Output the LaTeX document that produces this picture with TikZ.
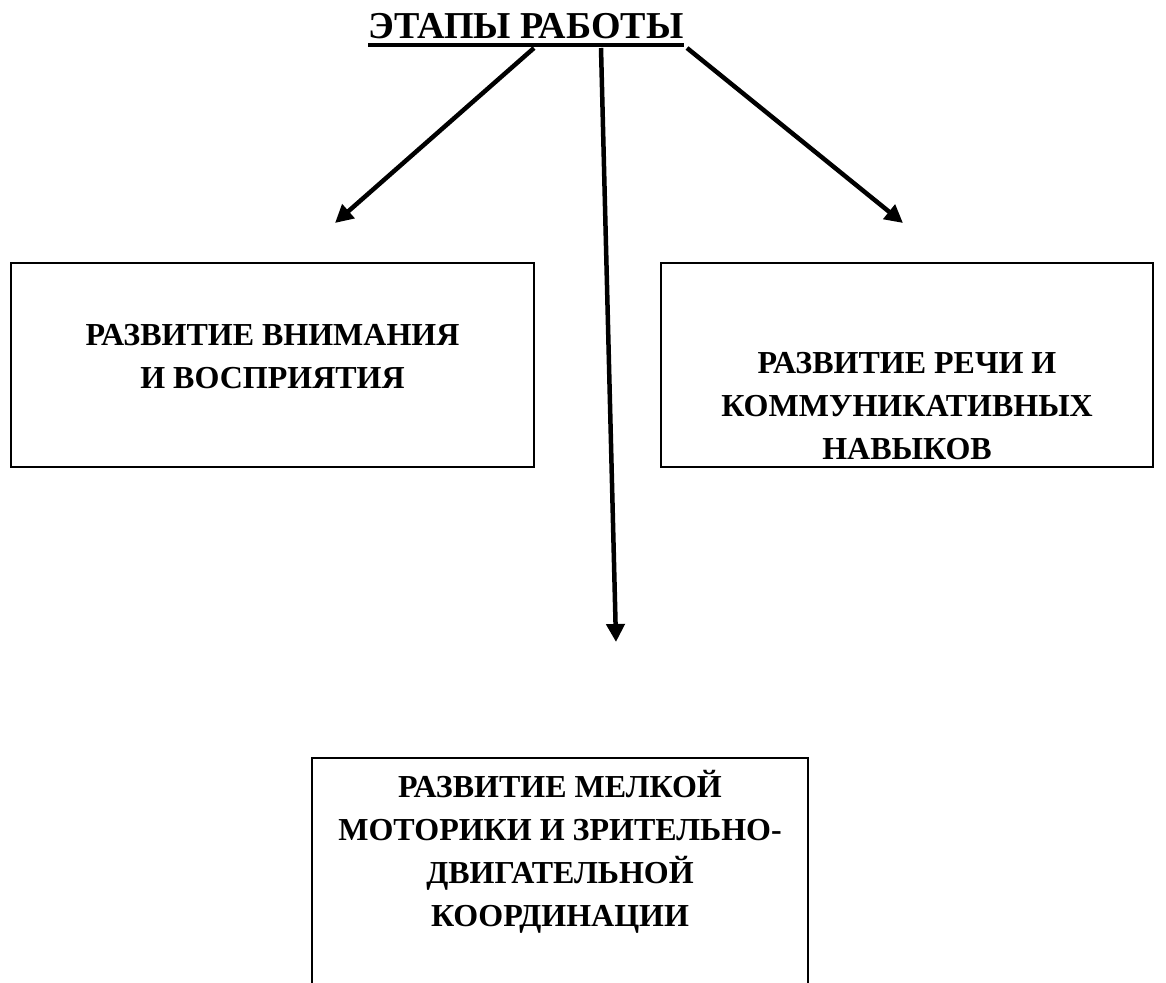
\documentclass[tikz,border=0pt]{standalone}
\usepackage{fontspec}
\setmainfont{Liberation Serif}
\usetikzlibrary{arrows.meta,positioning}
\begin{document}
\begin{tikzpicture}[x=1pt,y=-1pt,
    frame/.style={draw, line width=1.6pt, inner sep=0pt},
    caption/.style={align=center, font=\bfseries\fontsize{32}{43}\selectfont, inner sep=0pt},
    branch/.style={line width=4.5pt, -{Triangle[length=18pt,width=18pt]}}]

    % Page
    \useasboundingbox (0,0) rectangle (1166,982);
    \clip (0,0) rectangle (1166,982);

    % Title with underline
    \node[caption, font=\bfseries\fontsize{38}{43}\selectfont, anchor=base] (title) at (526,38) {ЭТАПЫ РАБОТЫ};
    \draw[line width=3.5pt] ([yshift=-7pt]title.base west) -- ([yshift=-7pt]title.base east);

    % Boxes
    \node[frame, minimum width=523pt, minimum height=204pt] (attn) at (272.5,365) {};
    \node[frame, minimum width=492pt, minimum height=204pt] (speech) at (907,365) {};
    \node[frame, minimum width=496pt, minimum height=300pt] (motor) at (560,908) {};

    % Box texts
    \node[caption, anchor=north] (attntext) at ([yshift=-62pt]attn.north) {РАЗВИТИЕ ВНИМАНИЯ\\И ВОСПРИЯТИЯ};
    \node[caption, anchor=north] (speechtext) at ([yshift=-90pt]speech.north) {РАЗВИТИЕ РЕЧИ И\\КОММУНИКАТИВНЫХ\\НАВЫКОВ};
    \node[caption, anchor=north] (motortext) at ([yshift=-13pt]motor.north) {РАЗВИТИЕ МЕЛКОЙ\\МОТОРИКИ И ЗРИТЕЛЬНО-\\ДВИГАТЕЛЬНОЙ\\КООРДИНАЦИИ};

    % Arrows
    \coordinate (tipattn) at (335,223);
    \coordinate (tipspeech) at (903,223);
    \coordinate (tipmotor) at (616,642);
    \draw[branch] ([xshift=8pt,yshift=-10pt]title.base) -- (tipattn);
    \draw[branch] ([xshift=75pt,yshift=-10pt]title.base) -- (tipmotor);
    \draw[branch] ([xshift=161pt,yshift=-10pt]title.base) -- (tipspeech);
\end{tikzpicture}
\end{document}
